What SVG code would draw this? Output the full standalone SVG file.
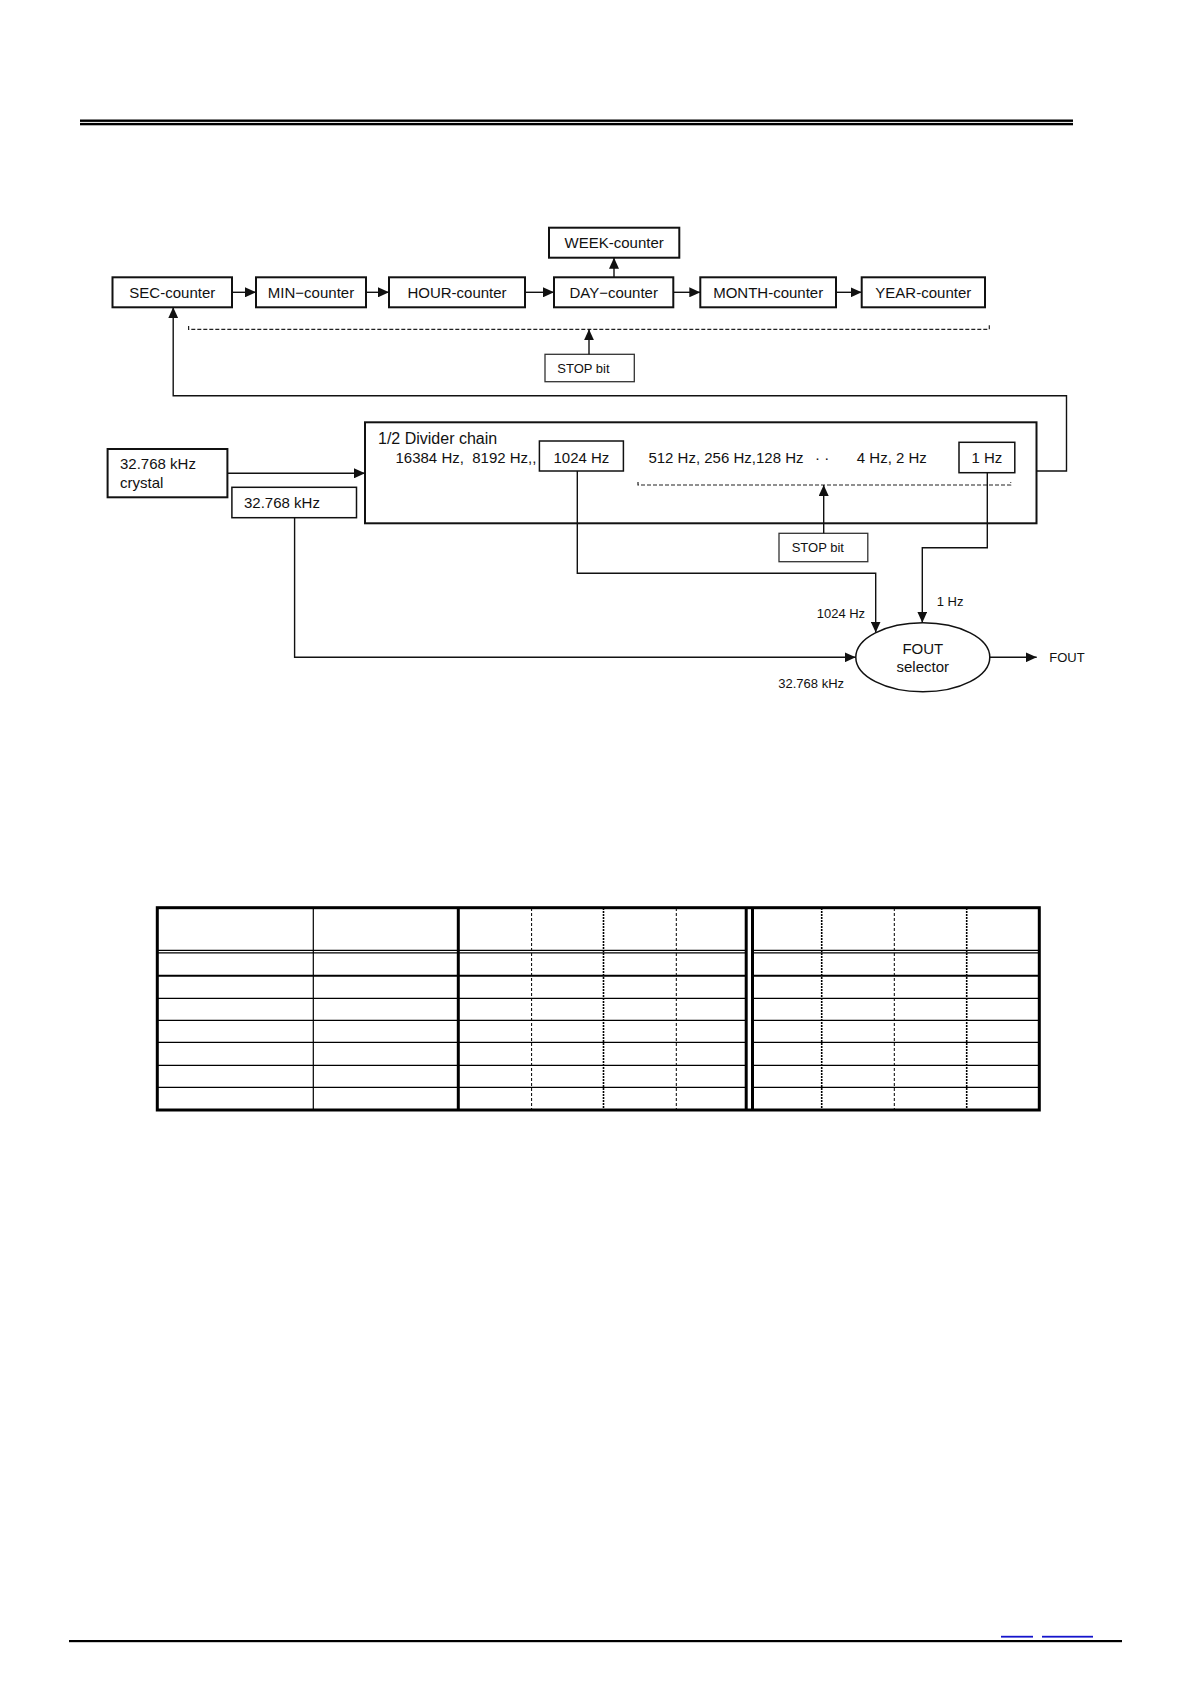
<svg xmlns="http://www.w3.org/2000/svg" width="1191" height="1684" viewBox="0 0 1191 1684">
<style>
text{font-family:"Liberation Sans",Arial,sans-serif;fill:#111}
.t15{font-size:15px}
.t16{font-size:16px}
.t13{font-size:13px}
.box{fill:#fff;stroke:#111;stroke-width:2}
.box15{fill:#fff;stroke:#111;stroke-width:1.5}
.sbox{fill:#fff;stroke:#333;stroke-width:1.3}
.ln{fill:none;stroke:#111;stroke-width:1.4}
.dash{fill:none;stroke:#222;stroke-width:1.2;stroke-dasharray:4 2}
.tb{stroke:#000;fill:none}
.th1{stroke-width:1.2}
.dthin{stroke-width:1;stroke-dasharray:3 2}
.dthick{stroke-width:1.6;stroke-dasharray:2 1}
</style>
<defs>
<marker id="ah" viewBox="0 0 11 10" refX="11" refY="5" markerWidth="11" markerHeight="10" markerUnits="userSpaceOnUse" orient="auto">
<path d="M0,0 L11,5 L0,10 z" fill="#111"/>
</marker>
</defs>

<g id="header-rule">
<rect x="80" y="119.5" width="993" height="2.4" fill="#000"/>
<rect x="80" y="122.9" width="993" height="2.4" fill="#000"/>
</g>

<g id="sec-counter">
<rect class="box" x="112.5" y="277.3" width="119.5" height="30"/>
<text class="t15" x="172.3" y="297.7" text-anchor="middle">SEC-counter</text>
</g>
<g id="min-counter">
<rect class="box" x="256" y="277.3" width="110" height="30"/>
<text class="t15" x="311" y="297.7" text-anchor="middle">MIN−counter</text>
</g>
<g id="hour-counter">
<rect class="box" x="389" y="277.3" width="136" height="30"/>
<text class="t15" x="457" y="297.7" text-anchor="middle">HOUR-counter</text>
</g>
<g id="day-counter">
<rect class="box" x="554" y="277.3" width="119.3" height="30"/>
<text class="t15" x="613.7" y="297.7" text-anchor="middle">DAY−counter</text>
</g>
<g id="week-counter">
<rect class="box" x="549" y="227.7" width="130.3" height="30"/>
<text class="t15" x="614.2" y="248" text-anchor="middle">WEEK-counter</text>
</g>
<g id="month-counter">
<rect class="box" x="700.3" y="277.3" width="135.7" height="30"/>
<text class="t15" x="768.2" y="297.7" text-anchor="middle">MONTH-counter</text>
</g>
<g id="year-counter">
<rect class="box" x="861.7" y="277.3" width="123.3" height="30"/>
<text class="t15" x="923.3" y="297.7" text-anchor="middle">YEAR-counter</text>
</g>
<g id="stop-bit-1">
<rect class="sbox" x="545" y="354.3" width="89.3" height="27.4"/>
<text class="t13" x="557.3" y="373.3">STOP bit</text>
</g>

<g id="divider-chain">
<rect x="365" y="422.3" width="671.5" height="101" fill="none" stroke="#111" stroke-width="2"/>
<text class="t16" x="378" y="444">1/2 Divider chain</text>
<text class="t15" x="395.5" y="462.7" xml:space="preserve">16384 Hz,  8192 Hz,,</text>
<text class="t15" x="648.4" y="462.7">512 Hz, 256 Hz,128 Hz</text>
<text class="t15" x="815" y="462.7">· ·</text>
<text class="t15" x="856.8" y="462.7">4 Hz, 2 Hz</text>
</g>
<g id="hz1024">
<rect class="box15" x="539.4" y="441" width="84" height="30"/>
<text class="t15" x="581.4" y="462.7" text-anchor="middle">1024 Hz</text>
</g>
<g id="hz1">
<rect class="box15" x="959" y="442.3" width="55.8" height="30.4"/>
<text class="t15" x="986.9" y="463.3" text-anchor="middle">1 Hz</text>
</g>
<g id="stop-bit-2">
<rect class="sbox" x="779" y="533.3" width="88.8" height="28.4"/>
<text class="t13" x="791.7" y="552.3">STOP bit</text>
</g>

<g id="crystal">
<rect class="box" x="107.6" y="449" width="119.8" height="48.3"/>
<text class="t15" x="120" y="469.3">32.768 kHz</text>
<text class="t15" x="120" y="487.8">crystal</text>
</g>
<g id="khz-32768">
<rect class="box15" x="231.9" y="487.3" width="124.6" height="30.4"/>
<text class="t15" x="244" y="508.3">32.768 kHz</text>
</g>

<g id="fout-selector">
<ellipse cx="922.8" cy="657.2" rx="67" ry="34.5" fill="#fff" stroke="#111" stroke-width="1.5"/>
<text class="t15" x="922.8" y="654.3" text-anchor="middle">FOUT</text>
<text class="t15" x="922.8" y="671.7" text-anchor="middle">selector</text>
</g>

<g id="connectors">
<path class="ln" d="M232,292.3 H256" marker-end="url(#ah)"/>
<path class="ln" d="M366,292.3 H389" marker-end="url(#ah)"/>
<path class="ln" d="M525,292.3 H554" marker-end="url(#ah)"/>
<path class="ln" d="M673.3,292.3 H700.3" marker-end="url(#ah)"/>
<path class="ln" d="M836,292.3 H861.7" marker-end="url(#ah)"/>
<path class="ln" d="M614,277.3 V257.7" marker-end="url(#ah)"/>
<path class="dash" d="M188.6,326 V329.3 H989.3 V324"/>
<path class="ln" d="M589,354.3 V329.3" marker-end="url(#ah)"/>
<path class="ln" d="M1036.5,471 H1066.5 V395.7 H173.2 V307.3" marker-end="url(#ah)"/>
<path class="ln" d="M227.4,473.3 H365" marker-end="url(#ah)"/>
<path class="dash" d="M638,482 V485 H1010.7 V482"/>
<path class="ln" d="M823.7,533.3 V485" marker-end="url(#ah)"/>
<path class="ln" d="M294.6,517.7 V657.3 H855.7" marker-end="url(#ah)"/>
<path class="ln" d="M577.3,471 V573.3 H875.7 V632.5" marker-end="url(#ah)"/>
<path class="ln" d="M987.3,472.7 V547.7 H922.3 V622.7" marker-end="url(#ah)"/>
<path class="ln" d="M990,657.3 H1036.7" marker-end="url(#ah)"/>
</g>

<g id="labels">
<text class="t13" x="816.7" y="618.3">1024 Hz</text>
<text class="t13" x="936.7" y="606">1 Hz</text>
<text class="t13" x="778.3" y="688.3">32.768 kHz</text>
<text class="t13" x="1049.3" y="661.7">FOUT</text>
</g>

<g id="table">
<g class="tb th1">
<line x1="157.5" y1="950.3" x2="745" y2="950.3"/>
<line x1="157.5" y1="952.8" x2="745" y2="952.8"/>
<line x1="753" y1="950.3" x2="1039.3" y2="950.3"/>
<line x1="753" y1="952.8" x2="1039.3" y2="952.8"/>
<line x1="157.5" y1="998.3" x2="745" y2="998.3"/>
<line x1="157.5" y1="1020.3" x2="745" y2="1020.3"/>
<line x1="157.5" y1="1042.3" x2="745" y2="1042.3"/>
<line x1="157.5" y1="1065.3" x2="745" y2="1065.3"/>
<line x1="157.5" y1="1087.3" x2="745" y2="1087.3"/>
<line x1="753" y1="998.3" x2="1039.3" y2="998.3"/>
<line x1="753" y1="1020.3" x2="1039.3" y2="1020.3"/>
<line x1="753" y1="1042.3" x2="1039.3" y2="1042.3"/>
<line x1="753" y1="1065.3" x2="1039.3" y2="1065.3"/>
<line x1="753" y1="1087.3" x2="1039.3" y2="1087.3"/>
<line x1="313.3" y1="908" x2="313.3" y2="1110"/>
</g>
<g class="tb" stroke-width="2">
<line x1="157.5" y1="975.7" x2="745" y2="975.7"/>
<line x1="753" y1="975.7" x2="1039.3" y2="975.7"/>
</g>
<g class="tb dthin">
<line x1="531.6" y1="908" x2="531.6" y2="1110"/>
<line x1="676.3" y1="908" x2="676.3" y2="1110"/>
<line x1="894.3" y1="908" x2="894.3" y2="1110"/>
</g>
<g class="tb dthick">
<line x1="603.5" y1="908" x2="603.5" y2="1110"/>
<line x1="821.7" y1="908" x2="821.7" y2="1110"/>
<line x1="966.7" y1="908" x2="966.7" y2="1110"/>
</g>
<g class="tb" stroke-width="3">
<line x1="458.3" y1="908" x2="458.3" y2="1110"/>
<line x1="746.2" y1="908" x2="746.2" y2="1110"/>
<line x1="752.5" y1="908" x2="752.5" y2="1110"/>
<rect x="157.3" y="907.7" width="882" height="202.3"/>
</g>
</g>

<g id="footer">
<rect x="69" y="1640" width="1053" height="2.2" fill="#000"/>
<rect x="1001" y="1635.8" width="32" height="1.8" fill="#1414cc"/>
<rect x="1042" y="1635.8" width="51" height="1.8" fill="#1414cc"/>
</g>
</svg>
